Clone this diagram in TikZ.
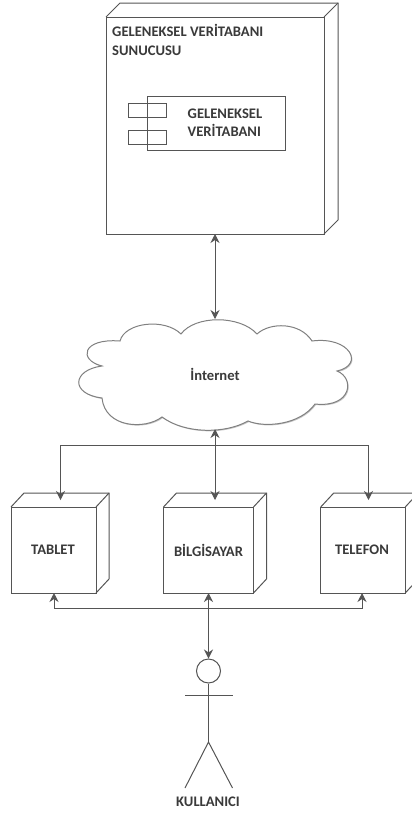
\documentclass[tikz,border=0pt]{standalone}
\usepackage{fontspec}
\setmainfont{Carlito}
\usetikzlibrary{arrows.meta}
\definecolor{ln}{HTML}{555555}
\definecolor{tx}{HTML}{3A3A3A}
\tikzset{
  front/.style={draw=ln,line width=1pt,fill=white,minimum width=#1,inner sep=0pt,outer sep=0pt},
  lbl/.style={text=tx,font=\bfseries\fontsize{14.6}{18.3}\selectfont,inner sep=0pt},
  link/.style={draw=ln,line width=1pt,-{Stealth[length=9pt,width=9pt]}},
  biglink/.style={draw=ln,line width=1pt,{Stealth[length=9pt,width=9pt]}-{Stealth[length=9pt,width=9pt]}},
  part/.style={draw=ln,line width=1pt}
}
\begin{document}
\begin{tikzpicture}[x=1pt,y=-1pt]
\useasboundingbox (0,0) rectangle (412,814);
% server
\node[front=218pt,minimum height=217pt] (server) at (215,125.5) {};
\draw[part] (server.north west) -- ++(14,-14) -- ++(218,0) -- ++(0,217) -- (server.south east);
\draw[part] (server.north east) -- ++(14,-14);
\node[lbl,align=left,anchor=north west] (servertext) at (112,24.5) {GELENEKSEL VERİTABANI\\SUNUCUSU};
% component
\node[front=138pt,minimum height=54pt] (comp) at (216,123) {};
\node[draw=ln,line width=1pt,minimum width=38pt,minimum height=14pt,inner sep=0pt] (tabA) at (147,110) {};
\node[draw=ln,line width=1pt,minimum width=38pt,minimum height=14pt,inner sep=0pt] (tabB) at (147,137) {};
\node[lbl,align=left] (comptext) at (225,123) {GELENEKSEL\\VERİTABANI};
% cloud
\path[fill=black!22,shift={(1pt,-1pt)}]
  (120,341) .. controls (125,322) and (165,318) .. (181,334)
  .. controls (195,315) and (240,315) .. (257,334)
  .. controls (270,322) and (300,322) .. (312,341)
  .. controls (350,336) and (365,365) .. (337,371)
  .. controls (355,378) and (352,408) .. (315,404)
  .. controls (300,425) and (265,428) .. (248,421)
  .. controls (225,434) and (185,434) .. (162,417)
  .. controls (145,430) and (105,428) .. (102,398)
  .. controls (70,394) and (72,370) .. (102,366)
  .. controls (78,360) and (82,338) .. (120,341) -- cycle;
\path[draw=black!50,line width=1pt,fill=white]
  (120,341) .. controls (125,322) and (165,318) .. (181,334)
  .. controls (195,315) and (240,315) .. (257,334)
  .. controls (270,322) and (300,322) .. (312,341)
  .. controls (350,336) and (365,365) .. (337,371)
  .. controls (355,378) and (352,408) .. (315,404)
  .. controls (300,425) and (265,428) .. (248,421)
  .. controls (225,434) and (185,434) .. (162,417)
  .. controls (145,430) and (105,428) .. (102,398)
  .. controls (70,394) and (72,370) .. (102,366)
  .. controls (78,360) and (82,338) .. (120,341) -- cycle;
\node[lbl] (inet) at (215,374) {İnternet};
\coordinate (cloudtop) at (215,319);
\coordinate (cloudbot) at (215,429);
% devices
\node[front=85pt,minimum height=86pt] (tablet) at (53.5,550) {};
\draw[part] (tablet.north west) -- ++(13,-14) -- ++(85,0) -- ++(0,86) -- (tablet.south east);
\draw[part] (tablet.north east) -- ++(13,-14);
\node[lbl] (tablettext) at (53,550) {TABLET};
\node[front=90pt,minimum height=86pt] (pc) at (208.5,550) {};
\draw[part] (pc.north west) -- ++(13,-14) -- ++(90,0) -- ++(0,86) -- (pc.south east);
\draw[part] (pc.north east) -- ++(13,-14);
\node[lbl] (pctext) at (208.5,550) {BİLGİSAYAR};
\node[front=84.5pt,minimum height=86pt] (phone) at (363,550) {};
\draw[part] (phone.north west) -- ++(13,-14) -- ++(84.5,0) -- ++(0,86) -- (phone.south east);
\draw[part] (phone.north east) -- ++(13,-14);
\node[lbl] (phonetext) at (362,550) {TELEFON};
% arrows, upper
\draw[biglink] (server.south) -- (cloudtop);
\coordinate (tipT) at (60.5,500);
\coordinate (tipP) at (215,500);
\coordinate (tipF) at (368.5,500);
\coordinate (busU) at (215,445);
\draw[biglink] (cloudbot) -- (tipP);
\draw[link] (busU) -| (tipT);
\draw[link] (busU) -| (tipF);
% actor
\node[draw=ln,line width=1pt,circle,minimum size=24pt,inner sep=0pt] (head) at (208.5,671) {};
\coordinate (hip) at (208.5,742);
\coordinate (armL) at (185,695);
\coordinate (armR) at (232.5,695);
\coordinate (footL) at (185,788);
\coordinate (footR) at (232.5,788);
\draw[part] (head.south) -- (hip);
\draw[part] (armL) -- (armR);
\draw[part] (footL) -- (hip) -- (footR);
\node[lbl] (actor) at (208,802) {KULLANICI};
% arrows, lower
\coordinate (busL) at (208.5,608);
\coordinate (tipL) at (54,593);
\coordinate (tipR) at (362,593);
\draw[link] (busL) -| (tipL);
\draw[link] (busL) -| (tipR);
\draw[biglink] (head.north) -- (pc.south);
\end{tikzpicture}
\end{document}
